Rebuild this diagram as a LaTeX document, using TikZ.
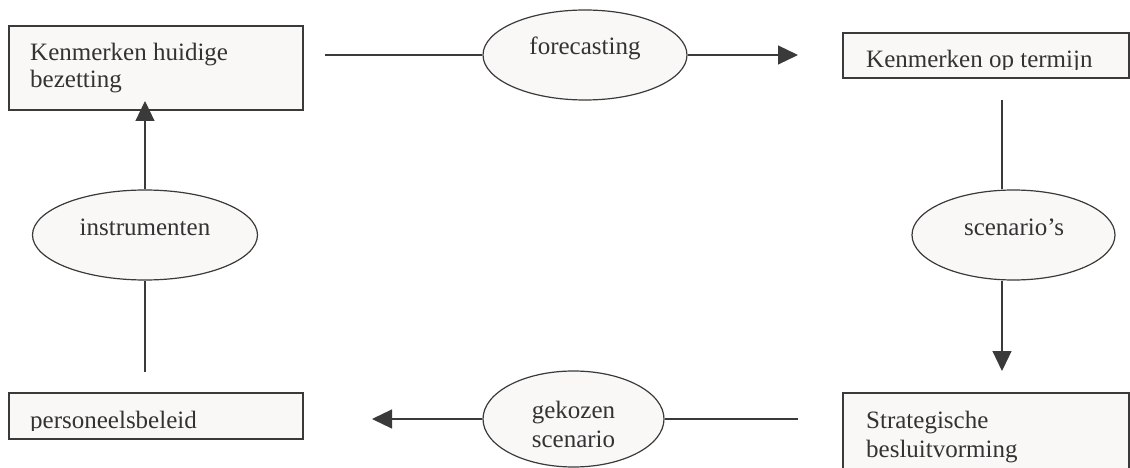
\documentclass[tikz,border=0pt]{standalone}
\usepackage{fontspec}
\setmainfont{Liberation Serif}
\usetikzlibrary{shapes.geometric,arrows.meta}
\definecolor{ln}{HTML}{3A3A3A}
\definecolor{fl}{HTML}{F9F8F6}
\definecolor{tx}{HTML}{333333}
\begin{document}
\begin{tikzpicture}[x=1pt,y=-1pt,
  box/.style={draw=ln,fill=fl,line width=1.2pt,rectangle,inner sep=0pt},
  oval/.style={draw=ln,fill=fl,line width=1.2pt,ellipse,inner sep=0pt},
  lbl/.style={text=tx,font=\fontsize{25}{28}\selectfont,inner sep=0pt,anchor=base west},
  clbl/.style={lbl,anchor=base},
  conn/.style={draw=ln,line width=1.2pt},
  arr/.style={conn,-{Triangle[length=20pt,width=19pt]}}]
\useasboundingbox (0,0) rectangle (1130,468);
\clip (0,0) rectangle (1130,468);
% boxes
\node[box,minimum width=294pt,minimum height=84pt] (b1) at (156,68) {};
\node[box,minimum width=286pt,minimum height=45pt] (b2) at (986,55.5) {};
\node[box,minimum width=294pt,minimum height=46pt] (b3) at (156,416) {};
\node[box,minimum width=286pt,minimum height=107pt] (b4) at (986,446.5) {};
% ellipses
\node[oval,minimum width=204pt,minimum height=90pt] (fc) at (585,55) {};
\node[oval,minimum width=203pt,minimum height=90pt] (sc) at (1013.5,235) {};
\node[oval,minimum width=181pt,minimum height=96pt] (gk) at (573.5,419) {};
\node[oval,minimum width=225pt,minimum height=90pt] (in) at (145,235) {};
% box texts
\node[lbl] (t1a) at (30,61) {Kenmerken huidige};
\node[lbl] (t1b) at (30,88) {bezetting};
\begin{scope}
\clip (843,33) rectangle (1129,70);
\node[lbl] (t2) at (866,68) {Kenmerken op termijn};
\end{scope}
\begin{scope}
\clip (9,393) rectangle (303,430);
\node[lbl] (t3) at (30,428) {personeelsbeleid};
\end{scope}
\node[lbl] (t4a) at (866,428) {Strategische};
\node[lbl] (t4b) at (866,457) {besluitvorming};
% ellipse texts
\node[clbl] (tf) at (585,55) {forecasting};
\node[clbl] (ts) at (1014,235) {scenario’s};
\node[clbl] (ti) at (145,235) {instrumenten};
\node[clbl] (tg1) at (573.5,418) {gekozen};
\node[clbl] (tg2) at (573.5,447) {scenario};
% connectors
\coordinate (c1) at (325,55);
\coordinate (c2) at (798,55);
\draw[conn] (c1) -- (fc.west);
\draw[arr] (fc.east) -- (c2);
\coordinate (c3) at (1002,100);
\coordinate (c4) at (1002,371);
\draw[conn] (c3) -- (c3 |- sc.north);
\draw[arr] (c4 |- sc.south) -- (c4);
\coordinate (c5) at (798,419);
\coordinate (c6) at (372,419);
\draw[conn] (c5) -- (gk.east);
\draw[arr] (gk.west) -- (c6);
\coordinate (c7) at (145,372);
\coordinate (c8) at (145,101);
\draw[conn] (c7) -- (in.south);
\draw[arr] (in.north) -- (c8);
\end{tikzpicture}
\end{document}
